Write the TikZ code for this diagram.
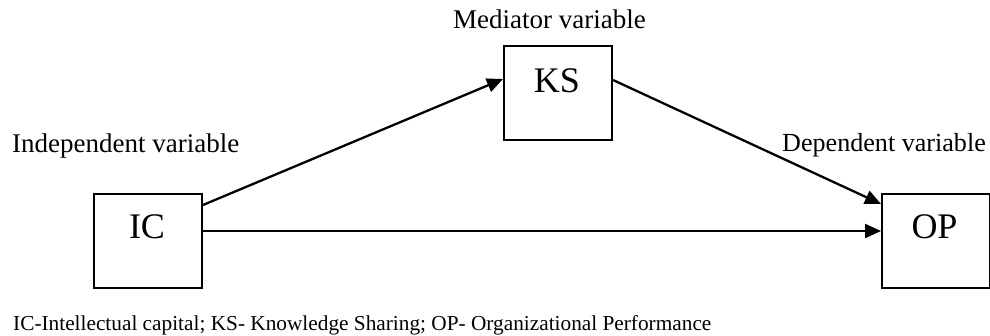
\documentclass[tikz,border=0pt]{standalone}
\usepackage{fontspec}
\setmainfont{Liberation Serif}
\usetikzlibrary{arrows.meta,calc}

\begin{document}
\begin{tikzpicture}[x=1pt,y=-1pt,
  varbox/.style={draw=black,line width=2pt,minimum width=108pt,minimum height=94pt,
    inner sep=0pt,anchor=north west},
  boxtext/.style={anchor=base,inner sep=0pt,font=\fontsize{36}{40}\selectfont},
  caption/.style={anchor=base west,inner sep=0pt,font=\fontsize{27}{32}\selectfont},
  note/.style={anchor=base west,inner sep=0pt,font=\fontsize{21.3}{25}\selectfont},
  link/.style={line width=2.3pt,-{Triangle[length=16pt,width=14pt]}}]

\useasboundingbox (0,0) rectangle (990,335);

% the three boxes
\node[varbox] (ic) at (93,193) {};
\node[varbox] (ks) at (503,45) {};
\node[varbox] (op) at (881,193) {};

% box names, set near the top of each box
\node[boxtext] (ict) at (147,238) {IC};
\node[boxtext] (kst) at (557,92) {KS};
\node[boxtext] (opt) at (934.5,238) {OP};

% role captions
\node[caption] (med) at (453,28) {Mediator variable};
\node[caption] (ind) at (12,152) {Independent variable};
\node[caption,font=\fontsize{26.1}{31}\selectfont] (dep) at (782,151) {Dependent variable};

% abbreviation note
\node[note] (abbr) at (13,330) {IC-Intellectual capital; KS- Knowledge Sharing; OP- Organizational Performance};

% connector end points on the box edges
\coordinate (icA) at ($(ic.north east)+(0,12)$);
\coordinate (icB) at ($(ic.north east)+(0,38)$);
\coordinate (ksIn) at ($(ks.north west)+(0,34)$);
\coordinate (ksOut) at ($(ks.north east)+(0,35)$);
\coordinate (opA) at ($(op.north west)+(0,11)$);
\coordinate (opB) at ($(op.north west)+(0,38)$);

\draw[link] (icA) -- (ksIn);
\draw[link] (ksOut) -- (opA);
\draw[link] (icB) -- (opB);
\end{tikzpicture}
\end{document}
